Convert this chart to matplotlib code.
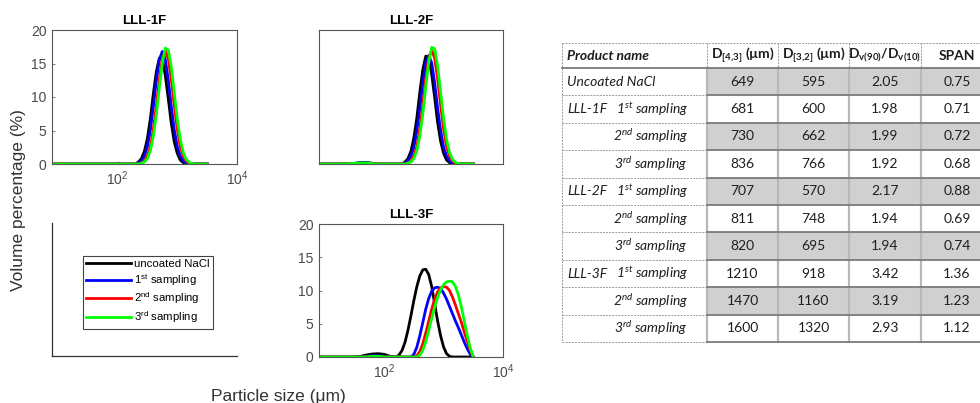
import matplotlib
matplotlib.use("Agg")
import matplotlib.pyplot as plt
from matplotlib.patches import Rectangle
from matplotlib.ticker import FixedLocator, NullLocator

plt.rcParams['font.family'] = ['Liberation Sans', 'DejaVu Sans']

# =========================
# Size distributions
# =========================

# particle size grid, um
size_um = [8, 20, 32, 40, 50, 63, 79, 100, 126, 158, 178, 200,
           224, 251, 282, 316, 355, 398, 447, 501, 562, 631, 708, 794,
           891, 1000, 1122, 1259, 1413, 1585, 1778, 1995, 2239, 2512, 2818, 3162]

lll1f_uncoated = [0, 0, 0, 0, 0, 0, 0, 0, 0, 0, 0, 0,
                  0.3, 0.8, 1.9, 3.8, 6.8, 10.5, 13.8, 15.8, 15.6, 13.2, 9.7, 6.1,
                  3.3, 1.6, 0.6, 0.2, 0, 0, 0, 0, 0, 0, 0, 0]
lll1f_first = [0, 0, 0, 0, 0, 0, 0, 0, 0, 0, 0, 0,
               0.15, 0.45, 1.2, 2.6, 5.1, 8.6, 12.5, 15.6, 16.8, 15.6, 12.5, 8.6,
               5.1, 2.6, 1.2, 0.45, 0.15, 0, 0, 0, 0, 0, 0, 0]
lll1f_second = [0, 0, 0, 0, 0, 0, 0, 0, 0, 0, 0, 0,
                0, 0.15, 0.45, 1.2, 2.6, 5.2, 8.7, 12.6, 15.7, 16.9, 15.7, 12.6,
                8.7, 5.2, 2.6, 1.2, 0.45, 0.15, 0, 0, 0, 0, 0, 0]
lll1f_third = [0, 0, 0, 0, 0, 0, 0, 0, 0, 0, 0, 0,
               0, 0.1, 0.3, 0.8, 2.0, 4.2, 7.4, 11.4, 15.1, 17.3, 17.0, 14.5,
               10.6, 6.7, 3.7, 1.7, 0.7, 0.25, 0.07, 0, 0, 0, 0, 0]

lll2f_uncoated = [0, 0, 0.1, 0.2, 0.2, 0.1, 0, 0, 0, 0, 0, 0,
                  0.3, 0.8, 1.9, 3.9, 6.9, 10.7, 14.1, 16.1, 15.9, 13.4, 9.9, 6.2,
                  3.4, 1.6, 0.6, 0.2, 0, 0, 0, 0, 0, 0, 0, 0]
lll2f_first = [0, 0, 0.1, 0.2, 0.2, 0.1, 0, 0, 0, 0, 0, 0,
               0.15, 0.45, 1.2, 2.5, 5.0, 8.3, 12.1, 15.1, 16.2, 15.1, 12.1, 8.3,
               5.0, 2.5, 1.2, 0.45, 0.15, 0, 0, 0, 0, 0, 0, 0]
lll2f_second = [0, 0, 0.05, 0.1, 0.1, 0.05, 0, 0, 0, 0, 0, 0,
                0, 0.15, 0.45, 1.2, 2.6, 5.2, 8.8, 12.7, 15.8, 17.0, 15.8, 12.7,
                8.8, 5.2, 2.6, 1.2, 0.45, 0.15, 0, 0, 0, 0, 0, 0]
lll2f_third = [0, 0, 0.1, 0.15, 0.15, 0.05, 0, 0, 0, 0, 0, 0,
               0, 0.1, 0.3, 0.8, 2.0, 4.2, 7.4, 11.5, 15.2, 17.4, 17.2, 14.6,
               10.7, 6.8, 3.7, 1.7, 0.7, 0.25, 0.07, 0, 0, 0, 0, 0]

lll3f_uncoated = [0, 0, 0, 0.1, 0.3, 0.45, 0.5, 0.4, 0.1, 0, 0.3, 1.0,
                  2.2, 4.0, 6.2, 8.5, 10.6, 12.2, 13.1, 13.2, 12.4, 10.6, 8.0, 5.4,
                  3.2, 1.5, 0.5, 0.1, 0, 0, 0, 0, 0, 0, 0, 0]
lll3f_first = [0, 0, 0, 0, 0.1, 0.2, 0.2, 0.1, 0, 0, 0, 0,
               0, 0, 0, 0.4, 1.5, 3.2, 5.2, 7.2, 8.8, 9.9, 10.4, 10.5,
               10.3, 9.6, 8.7, 7.6, 6.5, 5.4, 4.4, 3.3, 2.2, 1.2, 0.4, 0]
lll3f_second = [0, 0, 0, 0, 0, 0.1, 0.1, 0, 0, 0, 0, 0,
                0, 0, 0, 0, 0.2, 0.8, 2.0, 3.6, 5.4, 7.2, 8.7, 9.8,
                10.4, 10.6, 10.5, 10.0, 9.0, 7.8, 6.5, 5.2, 3.7, 2.3, 1.0, 0]
lll3f_third = [0, 0, 0, 0, 0, 0.1, 0.1, 0, 0, 0, 0, 0,
               0, 0, 0, 0, 0, 0.3, 1.0, 2.3, 4.0, 5.8, 7.5, 9.0,
               10.1, 10.9, 11.3, 11.4, 11.3, 10.6, 9.3, 7.5, 5.3, 3.2, 1.3, 0]

series_labels = ['uncoated NaCl',
                 r'1$\mathregular{^{st}}$ sampling',
                 r'2$\mathregular{^{nd}}$ sampling',
                 r'3$\mathregular{^{rd}}$ sampling']
series_colors = ['#000000', '#0000ff', '#ff0000', '#00ff00']

# =========================
# Table values
# =========================

product_group = ['Uncoated NaCl', 'LLL-1F', '', '', 'LLL-2F', '', '', 'LLL-3F', '', '']
sampling_no = ['', '1', '2', '3', '1', '2', '3', '1', '2', '3']
d43 = [649, 681, 730, 836, 707, 811, 820, 1210, 1470, 1600]
d32 = [595, 600, 662, 766, 570, 748, 695, 918, 1160, 1320]
dv_ratio = [2.05, 1.98, 1.99, 1.92, 2.17, 1.94, 1.94, 3.42, 3.19, 2.93]
span = [0.75, 0.71, 0.72, 0.68, 0.88, 0.69, 0.74, 1.36, 1.23, 1.12]
shaded = [True, False, True, False, True, False, True, False, True, False]

ordinal = {'1': 'st', '2': 'nd', '3': 'rd'}

# =========================
# Figure
# =========================

fig = plt.figure(figsize=(9.8, 4.03), dpi=100)

W, H = 980.0, 403.0


def px_axes(left, top, right, bottom):
    return fig.add_axes([left / W, 1 - bottom / H, (right - left) / W, (bottom - top) / H])


def style_axes(ax, title, labels=True):
    ax.set_xscale('log')
    ax.set_xlim(8, 1e4)
    ax.set_ylim(0, 20)
    ax.xaxis.set_major_locator(FixedLocator([1e2, 1e4]))
    ax.xaxis.set_minor_locator(NullLocator())
    ax.set_yticks([0, 5, 10, 15, 20])
    ax.tick_params(direction='in', length=2.5, width=0.6, color='#666666',
                   labelcolor='#4a4a4a', labelsize=10, pad=4)
    if not labels:
        ax.tick_params(labelleft=False, labelbottom=False, length=0)
    for s in ax.spines.values():
        s.set_color('#555555')
        s.set_linewidth(0.8)
    ax.set_title(title, fontsize=9.5, fontweight='bold', pad=4)


panels = [
    ('LLL-1F', (52, 30, 237, 164), True,
     [lll1f_uncoated, lll1f_first, lll1f_second, lll1f_third]),
    ('LLL-2F', (319, 30, 503, 164), False,
     [lll2f_uncoated, lll2f_first, lll2f_second, lll2f_third]),
    ('LLL-3F', (319, 224, 503, 357), True,
     [lll3f_uncoated, lll3f_first, lll3f_second, lll3f_third]),
]

handles = None
for title, box, labels, curves in panels:
    ax = px_axes(*box)
    lines = []
    for y, c, lab in zip(curves, series_colors, series_labels):
        ln, = ax.plot(size_um, y, color=c, lw=2.0, label=lab)
        lines.append(ln)
    style_axes(ax, title, labels)
    handles = lines

# legend panel
ax_leg = px_axes(52, 223, 237, 356)
ax_leg.set_xticks([])
ax_leg.set_yticks([])
ax_leg.spines['top'].set_visible(False)
ax_leg.spines['right'].set_visible(False)
for s in ['left', 'bottom']:
    ax_leg.spines[s].set_color('#333333')
    ax_leg.spines[s].set_linewidth(0.9)
leg = ax_leg.legend(handles, series_labels, loc='center',
                    bbox_to_anchor=(0.519, 0.48), fontsize=8.2,
                    handlelength=3.9, handletextpad=0.3, labelspacing=0.25,
                    borderpad=0.3, fancybox=False, framealpha=1,
                    edgecolor='#444444')
leg.get_frame().set_linewidth(0.8)

fig.text(19 / W, 1 - 200 / H, 'Volume percentage (%)', rotation=90,
         ha='center', va='center', fontsize=12.5, color='#333333')
fig.text(278 / W, 1 - 396 / H, 'Particle size (\u03bcm)',
         ha='center', va='center', fontsize=12.5, color='#333333')

# =========================
# Table
# =========================

tab = fig.add_axes([0, 0, 1, 1], zorder=5)
tab.set_xlim(0, W)
tab.set_ylim(H, 0)
tab.axis('off')

tfont = ['Lato', 'Liberation Sans', 'DejaVu Sans']
x_left, x_split = 562, 707
col_edges = [707, 778, 849, 921, 993]
y_top, y_head, row_h = 43, 68, 27.4
n_rows = len(d43)
y_bot = y_head + n_rows * row_h
dash_kw = dict(color='#9a9a9a', lw=0.7, ls=(0, (2, 1.2)))
grid_v = dict(color='#b8b8b8', lw=1.6)
grid_h = dict(color='#7a7a7a', lw=1.3)

for i in range(n_rows):
    y0 = y_head + i * row_h
    if shaded[i]:
        tab.add_patch(Rectangle((x_split, y0), col_edges[-1] - x_split, row_h,
                                facecolor='#d0d0d0', edgecolor='none'))

# dashed lines in the name column and header
tab.plot([x_left, x_left], [y_top, y_bot], **dash_kw)
tab.plot([x_left, col_edges[-1]], [y_top, y_top], **dash_kw)
for x in col_edges[:-1]:
    tab.plot([x, x], [y_top, y_head], **dash_kw)
for i in range(1, n_rows + 1):
    y = y_head + i * row_h
    tab.plot([x_left, x_split], [y, y], **dash_kw)

# solid grid of the data cells
for x in col_edges[:-1]:
    tab.plot([x, x], [y_head, y_bot], **grid_v)
tab.plot([x_left, col_edges[-1]], [y_head, y_head], **grid_h)
for i in range(1, n_rows + 1):
    y = y_head + i * row_h
    tab.plot([x_split, col_edges[-1]], [y, y], **grid_h)

# header
tc = '#1e1e1e'
fs = 10
y_hc = (y_top + y_head) / 2
tab.text(567, y_hc, 'Product name', ha='left', va='center', family=tfont,
         fontsize=fs, fontweight='bold', fontstyle='italic', color=tc)
headers = ['D$\\mathregular{_{[4{,}3]}}$ (\u00b5m)',
           'D$\\mathregular{_{[3{,}2]}}$ (\u00b5m)',
           'D$\\mathregular{_{v(90)}}$/D$\\mathregular{_{v(10)}}$',
           'SPAN']
centers = [(a + b) / 2 for a, b in zip(col_edges[:-1], col_edges[1:])]
for cx, h in zip(centers, headers):
    tab.text(cx, y_hc, h, ha='center', va='center', family=tfont,
             fontsize=fs, fontweight='bold', color=tc)

# rows
for i in range(n_rows):
    yc = y_head + (i + 0.5) * row_h
    if product_group[i]:
        tab.text(567, yc, product_group[i], ha='left', va='center',
                 family=tfont, fontsize=fs, fontstyle='italic', color=tc)
    if sampling_no[i]:
        n = sampling_no[i]
        lab = n + r'$\mathregular{^{' + ordinal[n] + r'}}$ sampling'
        tab.text(688, yc, lab, ha='right', va='center', family=tfont,
                 fontsize=fs, fontstyle='italic', color=tc)
    vals = [str(d43[i]), str(d32[i]), f'{dv_ratio[i]:.2f}', f'{span[i]:.2f}']
    for cx, v in zip(centers, vals):
        tab.text(cx, yc, v, ha='center', va='center', family=tfont,
                 fontsize=fs, color=tc)

fig.savefig('out.png', dpi=100)
